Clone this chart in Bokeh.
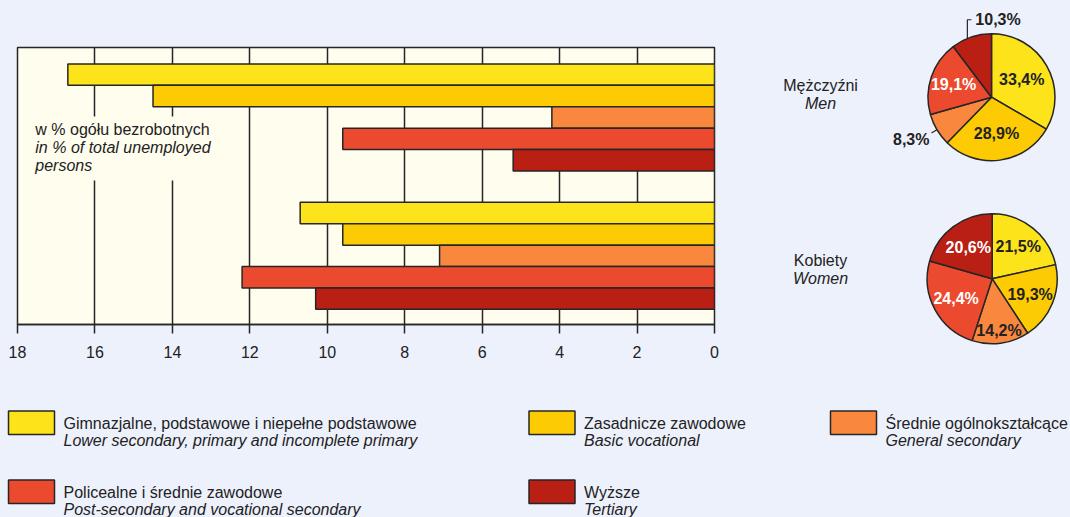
import math
from bokeh.plotting import figure
from bokeh.layouts import column, row
from bokeh.models import Range1d, FixedTicker, Label
from bokeh.core.properties import value
from bokeh.embed import file_html
from bokeh.resources import INLINE

# ---------------- data ----------------
categories_pl = ["Gimnazjalne, podstawowe i niepełne podstawowe", "Zasadnicze zawodowe",
                 "Średnie ogólnokształcące", "Policealne i średnie zawodowe", "Wyższe"]
categories_en = ["Lower secondary, primary and incomplete primary", "Basic vocational",
                 "General secondary", "Post-secondary and vocational secondary", "Tertiary"]
men_values = [16.7, 14.5, 4.2, 9.6, 5.2]          # % of total unemployed
women_values = [10.7, 9.6, 7.1, 12.2, 10.3]
men_shares = [33.4, 28.9, 8.3, 19.1, 10.3]         # % of unemployed men
women_shares = [21.5, 19.3, 14.2, 24.4, 20.6]      # % of unemployed women
x_ticks = [0, 2, 4, 6, 8, 10, 12, 14, 16, 18]
note_lines = ["w % ogółu bezrobotnych", "in % of total unemployed", "persons"]
men_title = ["Mężczyźni", "Men"]
women_title = ["Kobiety", "Women"]

# ---------------- style ----------------
colors = ["#FCE31A", "#FDCB03", "#F9883E", "#EB4A2E", "#B91F13"]
BG = "#EDF1FC"
FRAME_BG = "#FFFDEE"
INK = "#262626"
TXT = "#222222"
FONT = "Liberation Sans"
FS = "16px"
BGSTYLE = {"background-color": BG}

W_TOTAL, H_TOTAL = 1070, 517
W_BAR, H_TOP = 740, 370
FRAME_L, FRAME_R, FRAME_T, FRAME_B = 17, 714, 47, 324

# ---------------- bar chart ----------------
Y_MAX = 12.95
p = figure(width=W_BAR, height=H_TOP, x_range=Range1d(18, 0), y_range=Range1d(0, Y_MAX),
           output_backend="svg", toolbar_location=None, y_axis_location=None,
           min_border_left=FRAME_L, min_border_right=W_BAR - FRAME_R,
           min_border_top=FRAME_T, min_border_bottom=H_TOP - FRAME_B,
           background_fill_color=FRAME_BG, border_fill_color=BG,
           outline_line_color=INK, outline_line_width=1.5, frame_align=False,
           styles=BGSTYLE)
p.xaxis.ticker = FixedTicker(ticks=x_ticks)
p.xaxis.axis_line_color = INK
p.xaxis.axis_line_width = 1.5
p.xaxis.major_tick_line_color = INK
p.xaxis.major_tick_line_width = 1.5
p.xaxis.major_tick_in = 0
p.xaxis.major_tick_out = 9
p.xaxis.minor_tick_line_color = None
p.xaxis.major_label_text_font = FONT
p.xaxis.major_label_text_font_size = FS
p.xaxis.major_label_text_color = TXT
p.xaxis.major_label_standoff = 12
p.xgrid.ticker = FixedTicker(ticks=x_ticks)
p.xgrid.grid_line_color = INK
p.xgrid.grid_line_width = 1.5
p.ygrid.grid_line_color = None

# cream box behind note text (interrupts the grid lines)
p.quad(left=[17.85], right=[12.6], bottom=[6.73], top=[9.72],
       fill_color=FRAME_BG, line_color=None)

men_top = 12.18
women_top = 5.71
men_y = [men_top - 0.5 - i for i in range(len(men_values))]
women_y = [women_top - 0.5 - i for i in range(len(women_values))]
p.hbar(y=men_y, left=0, right=men_values, height=1, fill_color=colors,
       line_color=INK, line_width=1.5)
p.hbar(y=women_y, left=0, right=women_values, height=1, fill_color=colors,
       line_color=INK, line_width=1.5)

for i, (txt, yy) in enumerate(zip(note_lines, [9.11, 8.27, 7.43])):
    p.add_layout(Label(x=17.54, y=yy, text=txt, text_font=FONT, text_font_size=FS,
                       text_color=TXT, text_baseline="middle", text_align="left",
                       text_font_style="normal" if i == 0 else "italic"))

# ---------------- pies ----------------
W_PIE = W_TOTAL - W_BAR
p2 = figure(width=W_PIE, height=H_TOP, x_range=Range1d(W_BAR, W_TOTAL), y_range=Range1d(0, H_TOP),
            output_backend="svg", toolbar_location=None, x_axis_location=None,
            y_axis_location=None, min_border=0, background_fill_color=BG,
            border_fill_color=BG, outline_line_color=None, frame_align=False,
            styles=BGSTYLE)
p2.xgrid.grid_line_color = None
p2.ygrid.grid_line_color = None

white_text = ["#FFFFFF" if c in ("#EB4A2E", "#B91F13") else TXT for c in colors]


def draw_pie(cx, cy, r, shares, label_r, outside):
    cum = 0.0
    starts, ends, mids = [], [], []
    for s in shares:
        a0 = math.pi / 2 - 2 * math.pi * cum / 100
        cum += s
        a1 = math.pi / 2 - 2 * math.pi * cum / 100
        starts.append(a0)
        ends.append(a1)
        mids.append((a0 + a1) / 2)
    p2.wedge(x=[cx] * len(shares), y=[cy] * len(shares), radius=r, start_angle=starts,
             end_angle=ends, direction="clock", fill_color=colors, line_color=INK,
             line_width=1.5)
    xs, ys, ts, tc = [], [], [], []
    for i, s in enumerate(shares):
        lab = f"{s:.1f}%".replace(".", ",")
        if i in outside:
            kind = outside[i]
            if kind == "leader":
                ex, ey = cx + r * math.cos(mids[i]), cy + r * math.sin(mids[i])
                lx, ly = cx + 1.1 * r * math.cos(mids[i]), cy + 1.1 * r * math.sin(mids[i])
                p2.line([ex, lx], [ey, ly], line_color=INK, line_width=1.2)
                p2.text(x=[lx - 2], y=[ly - 7], text=[lab], text_font=value(FONT),
                        text_font_size=value(FS), text_font_style="bold", text_color=TXT,
                        text_align="right", text_baseline="middle")
            else:  # bracket above the pie
                bx = cx - 0.38 * r
                by0 = cy + math.sqrt(r * r - (0.38 * r) ** 2)
                by1 = cy + 1.22 * r
                p2.line([bx, bx, bx + 4], [by0, by1, by1], line_color=INK, line_width=1.2)
                p2.text(x=[bx + 8], y=[by1], text=[lab], text_font=value(FONT),
                        text_font_size=value(FS), text_font_style="bold", text_color=TXT,
                        text_align="left", text_baseline="middle")
            continue
        xs.append(cx + label_r[i] * r * math.cos(mids[i]))
        ys.append(cy + label_r[i] * r * math.sin(mids[i]))
        ts.append(lab)
        tc.append(white_text[i])
    p2.text(x=xs, y=ys, text=ts, text_color=tc, text_font=value(FONT),
            text_font_size=value(FS), text_font_style="bold", text_align="center",
            text_baseline="middle")


men_c = (991, H_TOP - 96.7, 63.5)
women_c = (991.7, H_TOP - 278.3, 65)
draw_pie(*men_c, men_shares, [0.55, 0.58, 0, 0.63, 0], {2: "leader", 4: "bracket"})
draw_pie(*women_c, women_shares, [0.64, 0.63, 0.8, 0.63, 0.61], {})

for (t1, t2), (y1, y2) in [((men_title[0], men_title[1]), (H_TOP - 85, H_TOP - 103)),
                           ((women_title[0], women_title[1]), (H_TOP - 260, H_TOP - 278))]:
    p2.add_layout(Label(x=820, y=y1, text=t1, text_font=FONT, text_font_size=FS,
                        text_color=TXT, text_align="center", text_baseline="middle"))
    p2.add_layout(Label(x=820, y=y2, text=t2, text_font=FONT, text_font_size=FS,
                        text_color=TXT, text_align="center", text_baseline="middle",
                        text_font_style="italic"))

# ---------------- legend ----------------
H_LEG = H_TOTAL - H_TOP
p3 = figure(width=W_TOTAL, height=H_LEG, x_range=Range1d(0, W_TOTAL),
            y_range=Range1d(H_TOTAL, H_TOP), output_backend="svg", toolbar_location=None,
            x_axis_location=None, y_axis_location=None, min_border=0,
            background_fill_color=BG, border_fill_color=BG, outline_line_color=None,
            frame_align=False, styles=BGSTYLE)
p3.xgrid.grid_line_color = None
p3.ygrid.grid_line_color = None

col_left = [8, 528.5, 830]
row_top = [410.5, 479.5]
slots = [(0, 0), (1, 0), (2, 0), (0, 1), (1, 1)]
lefts = [col_left[c] for c, r in slots]
tops = [row_top[r] for c, r in slots]
p3.quad(left=lefts, right=[l + 46 for l in lefts], top=tops, bottom=[t + 23.5 for t in tops],
        fill_color=colors, line_color=INK, line_width=1.5)
p3.text(x=[l + 55 for l in lefts], y=[t + 12 for t in tops], text=categories_pl,
        text_font=value(FONT), text_font_size=value(FS), text_color=TXT,
        text_baseline="middle")
p3.text(x=[l + 55 for l in lefts], y=[t + 29 for t in tops], text=categories_en,
        text_font=value(FONT), text_font_size=value(FS), text_color=TXT,
        text_baseline="middle", text_font_style="italic")

layout = column(row(p, p2, spacing=0, styles=BGSTYLE), p3, spacing=0, styles=BGSTYLE)
open("out.html", "w").write(file_html(layout, INLINE, title="Bezrobotni"))
